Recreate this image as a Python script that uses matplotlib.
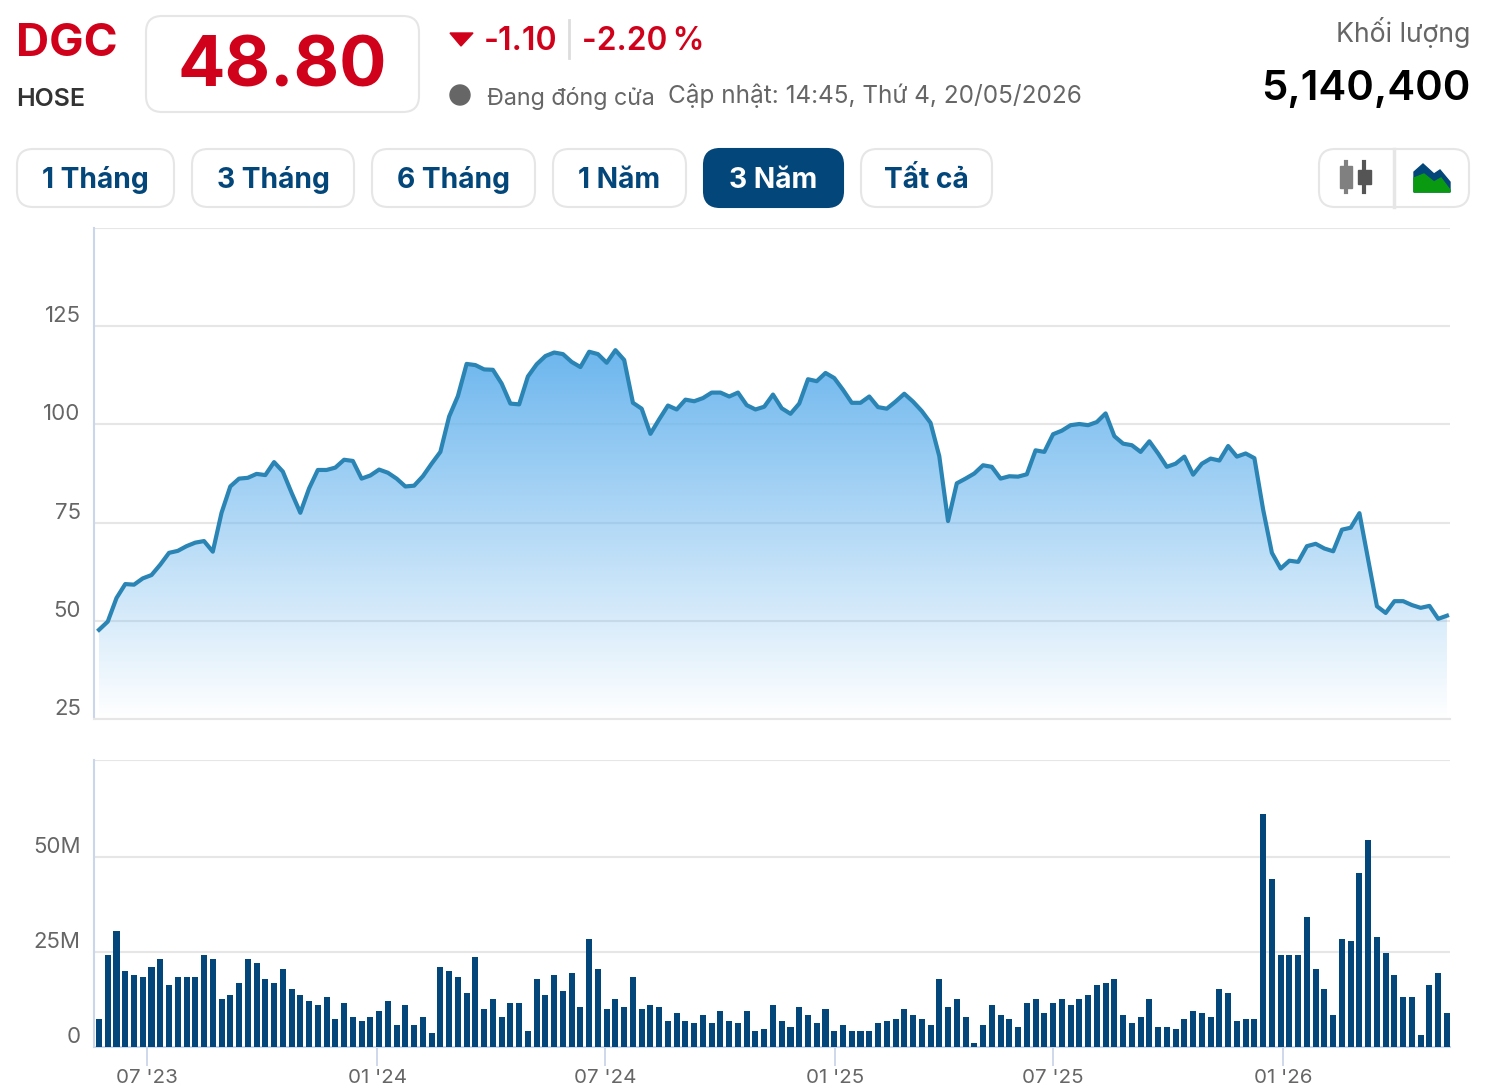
import matplotlib
matplotlib.use("Agg")
import matplotlib.pyplot as plt
import numpy as np
from matplotlib.patches import FancyBboxPatch, Polygon, Circle, Rectangle
from matplotlib.colors import LinearSegmentedColormap

plt.rcParams['font.family'] = ['Inter', 'DejaVu Sans']

# gia dong cua theo tuan
prices = [47.7, 49.8, 55.8, 59.35, 59.2, 60.8, 61.65, 64.3, 67.3, 67.8,
          69, 69.9, 70.3, 67.6, 77.5, 84.2, 86.2, 86.4, 87.4, 87.1,
          90.4, 88, 82.6, 77.5, 83.7, 88.4, 88.4, 89, 91, 90.7,
          86.2, 87, 88.5, 87.7, 86.2, 84.2, 84.4, 86.8, 90, 93,
          102, 107.2, 115.4, 115.1, 114, 113.9, 110.4, 105.3, 105.1, 112.2,
          115.3, 117.4, 118.3, 117.9, 115.9, 114.6, 118.5, 117.9, 115.7, 118.9,
          116.4, 105.5, 104, 97.6, 101.3, 104.8, 103.8, 106.3, 105.9, 106.7,
          108.1, 108.1, 107.1, 108.1, 104.9, 103.8, 104.5, 107.6, 104.1, 102.7,
          105.3, 111.5, 111, 113.1, 111.8, 108.8, 105.5, 105.5, 107.1, 104.4,
          104, 105.8, 107.8, 105.8, 103.4, 100.4, 91.9, 75.4, 85, 86.2,
          87.5, 89.6, 89.2, 86.2, 86.8, 86.7, 87.3, 93.4, 93, 97.5,
          98.4, 99.8, 100.1, 99.8, 100.6, 102.8, 97, 95.1, 94.7, 93,
          95.7, 92.6, 89.2, 90, 91.8, 87.2, 90, 91.3, 90.8, 94.5,
          91.8, 92.6, 91.4, 78.3, 67.3, 63.3, 65.3, 65, 69, 69.6,
          68.4, 67.7, 73.2, 73.7, 77.4, 65.6, 53.7, 52, 55, 55,
          54, 53.3, 53.8, 50.5, 51.3]

# khoi luong (trieu co phieu)
volumes = [7.4, 24.3, 30.7, 20.1, 19, 18.5, 21.2, 23.3, 16.4, 18.5,
           18.5, 18.5, 24.3, 23.3, 12.7, 13.8, 16.9, 23.3, 22.2, 18,
           16.9, 20.6, 15.3, 13.8, 12.2, 11.1, 13.2, 7.4, 11.6, 7.9,
           6.9, 7.9, 9.5, 12.2, 5.8, 11.1, 5.8, 7.9, 3.7, 21.2,
           20.1, 18.5, 14.3, 23.8, 10.1, 12.7, 7.9, 11.6, 11.6, 4.2,
           18, 13.8, 19, 14.8, 19.6, 10.6, 28.6, 20.6, 10.1, 12.7,
           10.6, 18.5, 10.1, 11.1, 10.6, 6.9, 9, 6.9, 6.3, 8.5,
           6.3, 9.5, 6.9, 6.3, 9.5, 4.2, 4.8, 11.1, 6.9, 5.3,
           10.6, 8.5, 6.3, 10.1, 4.2, 5.8, 4.2, 4.2, 4.2, 6.3,
           6.9, 7.4, 10.1, 8.5, 7.4, 5.8, 18, 10.6, 12.7, 7.9,
           1.1, 5.8, 11.1, 8.5, 7.4, 5.3, 11.6, 12.7, 9, 11.6,
           12.7, 11.1, 12.7, 13.8, 16.4, 16.9, 18, 8.5, 6.3, 7.9,
           12.7, 5.3, 5.3, 4.8, 7.4, 9.5, 9, 7.9, 15.3, 14.3,
           6.9, 7.4, 7.4, 61.4, 44.4, 24.3, 24.3, 24.3, 34.4, 20.6,
           15.3, 8.5, 28.6, 28, 46, 54.5, 29.1, 24.9, 19, 13.2,
           13.2, 3.2, 16.4, 19.6, 9]

price_ticks = [25, 50, 75, 100, 125, 150]
price_labels = ['25', '50', '75', '100', '125', '']
vol_ticks = [0, 25, 50, 75.7]
vol_labels = ['0', '25M', '50M', '']
date_pos = [5.5, 31.8, 57.8, 84.1, 109, 135.3]
date_labels = ["07 '23", "01 '24", "07 '24", "01 '25", "07 '25", "01 '26"]
periods = ['1 Tháng', '3 Tháng', '6 Tháng', '1 Năm', '3 Năm', 'Tất cả']

W, H = 1488, 1092
RED = '#d0021b'
NAVY = '#03467a'
GREY = '#666666'
GRID = '#e6e6e6'
AXIS = '#ccd6eb'

fig = plt.figure(figsize=(W / 100, H / 100), dpi=100)


def px_axes(l, t, r, b):
    return fig.add_axes([l / W, 1 - b / H, (r - l) / W, (b - t) / H])


x = np.arange(len(prices))
# 99px la diem dau, 8.753px moi tuan
xlim = ((94 - 99) / 8.753, (1450 - 99) / 8.753)

# bieu do gia
ax = px_axes(94, 228, 1450, 719)
ax.set_axisbelow(True)
cmap = LinearSegmentedColormap.from_list(
    'fade', [(0.427, 0.714, 0.937, 0.0), (0.427, 0.714, 0.937, 1.0)])
top = max(prices)
grad = np.linspace(1, 0, 256).reshape(-1, 1)
im = ax.imshow(grad, extent=[x[0], x[-1], 25, top], aspect='auto', cmap=cmap,
               vmin=0, vmax=1, zorder=2)
clip = ax.fill_between(x, prices, 25, color='none')
im.set_clip_path(clip.get_paths()[0], transform=ax.transData)
ax.plot(x, prices, color='#2a84b4', lw=3, solid_joinstyle='round', zorder=3)
ax.set_xlim(xlim)
ax.set_ylim(25, 150)
ax.set_yticks(price_ticks)
ax.set_yticklabels(price_labels)
ax.set_xticks([])
ax.grid(axis='y', color=GRID, lw=1.5)
ax.tick_params(axis='y', length=0, pad=9.5, labelcolor=GREY, labelsize=16)
for lbl in ax.get_yticklabels():
    lbl.set_verticalalignment('bottom')
for s in ['top', 'right']:
    ax.spines[s].set_visible(False)
ax.spines['bottom'].set_color(GRID)
ax.spines['bottom'].set_linewidth(1.5)
ax.spines['left'].set_color(AXIS)
ax.spines['left'].set_linewidth(1.5)

# bieu do khoi luong
ax2 = px_axes(94, 760, 1450, 1047)
ax2.set_axisbelow(True)
ax2.bar(x, volumes, width=0.69, color=NAVY, zorder=3)
ax2.set_xlim(xlim)
ax2.set_ylim(0, 75.7)
ax2.set_yticks(vol_ticks)
ax2.set_yticklabels(vol_labels)
ax2.set_xticks(date_pos)
ax2.set_xticklabels(date_labels)
ax2.grid(axis='y', color=GRID, lw=1.5)
ax2.tick_params(axis='y', length=0, pad=9.5, labelcolor=GREY, labelsize=16)
ax2.tick_params(axis='x', length=14, width=1.3, color=AXIS, pad=1.5,
                labelcolor=GREY, labelsize=14.8)
for lbl in ax2.get_yticklabels():
    lbl.set_verticalalignment('bottom')
for s in ['top', 'right']:
    ax2.spines[s].set_visible(False)
ax2.spines['bottom'].set_color(AXIS)
ax2.spines['bottom'].set_linewidth(1.5)
ax2.spines['left'].set_color(AXIS)
ax2.spines['left'].set_linewidth(1.5)

# phan dau trang, toa do pixel
hd = fig.add_axes([0, 0, 1, 1], zorder=5)
hd.set_xlim(0, W)
hd.set_ylim(H, 0)
hd.axis('off')
hd.patch.set_alpha(0)


def box(l, t, r, b, fc='white', ec=GRID, rad=16):
    hd.add_patch(FancyBboxPatch((l, t), r - l, b - t, fc=fc, ec=ec, lw=1.5,
                                boxstyle=f'round,pad=0,rounding_size={rad}'))


hd.text(16, 44, 'DGC', color=RED, fontsize=33, fontweight='bold', va='center')
hd.text(16, 99, 'HOSE', color='#333333', fontsize=18, fontweight='semibold', va='center')
box(146, 16, 419, 112)
hd.text(282, 68, '48.80', color=RED, fontsize=50.5, fontweight='bold', ha='center', va='center')

hd.add_patch(Polygon([(450, 33), (473, 33), (461, 46)], color=RED))
hd.text(484, 42, '-1.10', color=RED, fontsize=23, fontweight='semibold', va='center')
hd.add_line(plt.Line2D([569, 569], [20, 58], color='#dddddd', lw=2))
hd.text(582, 42, '-2.20\u2009%', color=RED, fontsize=22.8, fontweight='semibold', va='center')

hd.add_patch(Circle((460, 95), 10, color=GREY))
hd.text(487, 98, 'Đang đóng cửa', color=GREY, fontsize=16.8, va='center')
hd.text(668, 96, 'Cập nhật: 14:45, Thứ 4, 20/05/2026', color=GREY, fontsize=17.5, va='center')

hd.text(1470, 32, 'Khối lượng', color=GREY, fontsize=19.2, ha='right', va='center')
hd.text(1470, 89, '5,140,400', color='black', fontsize=30.2, fontweight='semibold',
        ha='right', va='center')

# nut chon thoi gian
btn_edges = [(17, 174), (192, 354), (372, 535), (553, 686), (704, 843), (861, 992)]
for name, (l, r) in zip(periods, btn_edges):
    active = name == '3 Năm'
    box(l, 149, r, 207, fc=NAVY if active else 'white', ec=NAVY if active else GRID)
    hd.text((l + r) / 2, 180, name, color='white' if active else NAVY, fontsize=20.3,
            fontweight='bold', ha='center', va='center')

# nhom icon
box(1319, 149, 1469, 207)
hd.add_line(plt.Line2D([1394, 1394], [149, 207], color=GRID, lw=2.5))
hd.add_line(plt.Line2D([1346, 1346], [162, 192], color='#808080', lw=3))
hd.add_patch(Rectangle((1340, 166), 12, 22, color='#808080'))
hd.add_line(plt.Line2D([1364, 1364], [162, 192], color='#555555', lw=3))
hd.add_patch(Rectangle((1358, 170), 13, 14, color='#555555'))
hd.add_patch(Polygon([(1414, 192), (1414, 172), (1423, 164), (1434, 174), (1440, 170),
                      (1450, 182), (1450, 192)], color=NAVY))
hd.add_patch(Polygon([(1414, 192), (1414, 178), (1424, 174), (1434, 182), (1441, 178),
                      (1450, 190), (1450, 192)], color='#0a9a12'))

fig.savefig('out.png', dpi=100)
